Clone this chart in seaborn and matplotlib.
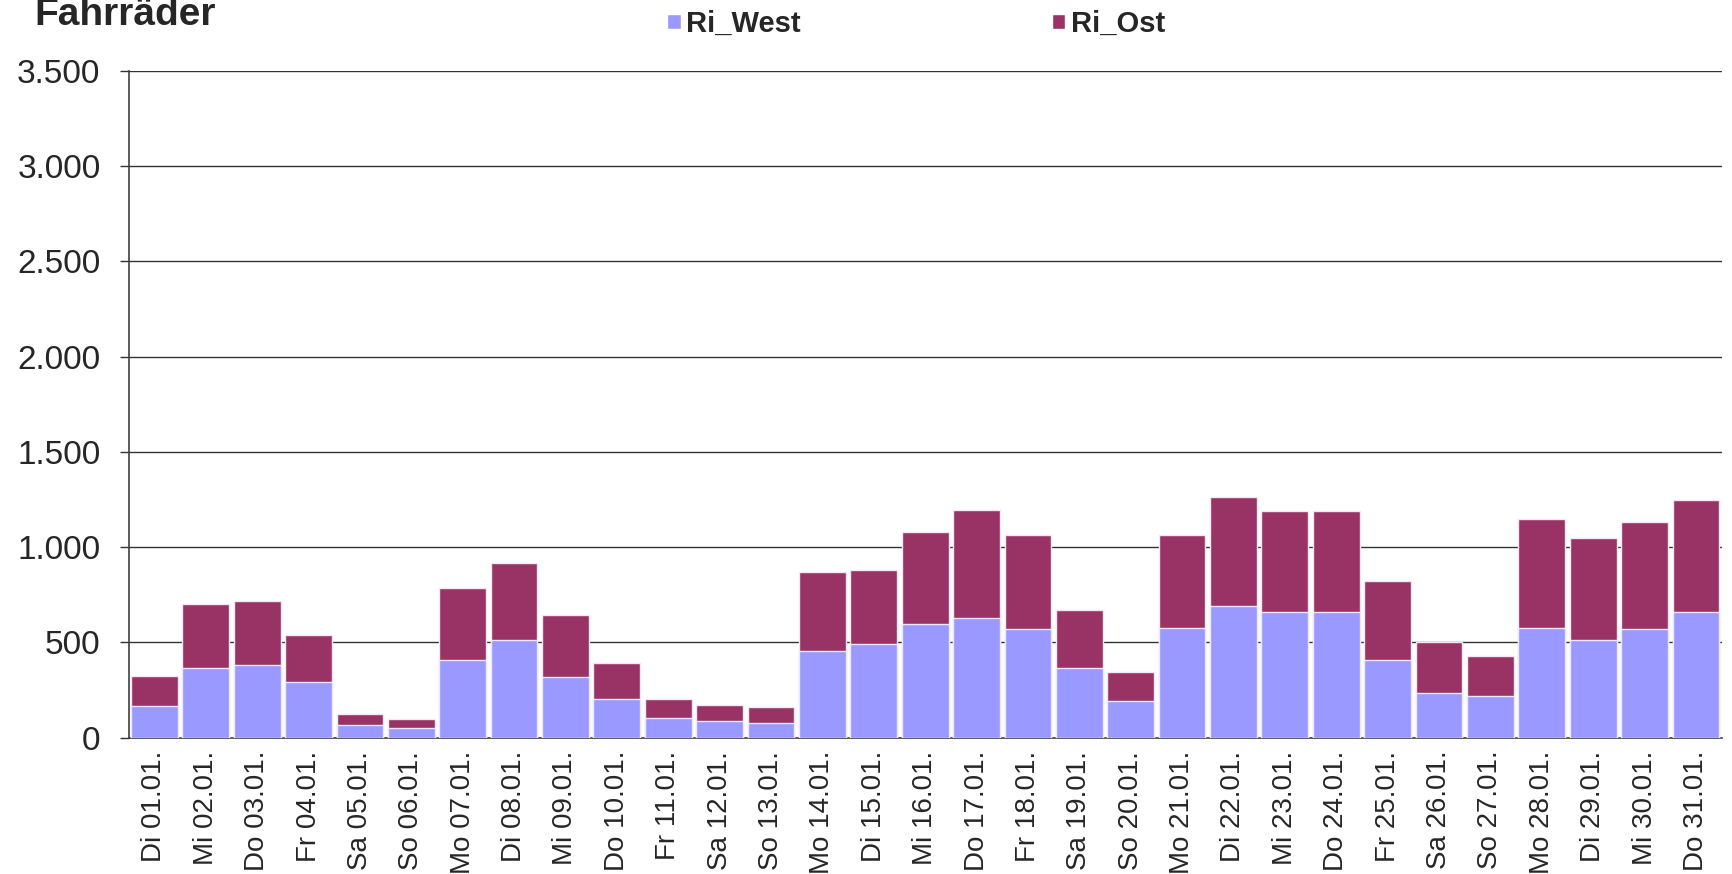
import pandas as pd
import seaborn as sns
import matplotlib.pyplot as plt
from matplotlib.patches import Patch
from matplotlib.ticker import FuncFormatter, FixedLocator

days = ['Di 01.01.', 'Mi 02.01.', 'Do 03.01.', 'Fr 04.01.', 'Sa 05.01.', 'So 06.01.',
        'Mo 07.01.', 'Di 08.01.', 'Mi 09.01.', 'Do 10.01.', 'Fr 11.01.', 'Sa 12.01.',
        'So 13.01.', 'Mo 14.01.', 'Di 15.01.', 'Mi 16.01.', 'Do 17.01.', 'Fr 18.01.',
        'Sa 19.01.', 'So 20.01.', 'Mo 21.01.', 'Di 22.01.', 'Mi 23.01.', 'Do 24.01.',
        'Fr 25.01.', 'Sa 26.01.', 'So 27.01.', 'Mo 28.01.', 'Di 29.01.', 'Mi 30.01.',
        'Do 31.01.']
ri_west = [165, 366, 380, 290, 67, 49, 408, 513, 320, 203, 105, 89, 75, 456, 490, 596,
           628, 570, 364, 191, 577, 691, 658, 659, 406, 236, 220, 574, 513, 569, 658]
ri_ost = [159, 337, 335, 250, 59, 49, 376, 402, 322, 187, 98, 81, 84, 411, 388, 481,
          565, 493, 306, 154, 486, 570, 530, 530, 416, 268, 207, 573, 535, 561, 587]

df = pd.DataFrame({'Tag': days, 'Ri_West': ri_west, 'Ri_Ost': ri_ost})
df['Gesamt'] = df['Ri_West'] + df['Ri_Ost']

west_color = '#9999FF'
ost_color = '#993366'
line_color = '#333333'

sns.set_style('white')
plt.rcParams['font.family'] = ['Liberation Sans', 'DejaVu Sans']

fig = plt.figure(figsize=(17.32, 8.74), dpi=100)
ax = fig.add_axes([0.0743, 0.156, 0.9197, 0.763])

# stacked bars: total first (Ost colour), then West over it
sns.barplot(data=df, x='Tag', y='Gesamt', color=ost_color, saturation=1, width=0.91,
            edgecolor='#f4e8f0', linewidth=1, ax=ax, zorder=3)
sns.barplot(data=df, x='Tag', y='Ri_West', color=west_color, saturation=1, width=0.91,
            edgecolor='#ece8ff', linewidth=1, ax=ax, zorder=4)

ax.set_xlim(-0.5, len(days) - 0.5)
ax.set_ylim(0, 3500)
ax.set_yticks(range(0, 3501, 500))
ax.yaxis.set_major_formatter(FuncFormatter(lambda v, p: f'{int(v):,}'.replace(',', '.')))
ax.grid(axis='y', color=line_color, linewidth=1, zorder=0)
ax.set_axisbelow(True)

ax.set_xticks(range(len(days)))
ax.set_xticklabels(days, rotation=90)
ax.tick_params(axis='x', which='major', length=0, pad=9.5, labelsize=20)
ax.xaxis.set_minor_locator(FixedLocator([-0.5 + 4 * i for i in range(8)]))
ax.tick_params(axis='x', which='minor', length=6, width=1, color=line_color, direction='out')
ax.tick_params(axis='y', length=6.3, width=1, color=line_color, pad=14, labelsize=24, left=True)

for side in ['top', 'right']:
    ax.spines[side].set_visible(False)
for side in ['left', 'bottom']:
    ax.spines[side].set_color('#404040')
    ax.spines[side].set_linewidth(1.2)

ax.set_xlabel('')
ax.set_ylabel('')

fig.text(0.02, 1 - 25 / 874, 'Fahrräder', fontsize=28, fontweight='bold', va='baseline')

handles = [Patch(facecolor=west_color, label='Ri_West'), Patch(facecolor=ost_color, label='Ri_Ost')]
fig.legend(handles=handles, loc='center', bbox_to_anchor=(0.529, 1 - 24 / 874), ncol=2,
           frameon=False, handlelength=0.45, handleheight=0.45, handletextpad=0.2,
           columnspacing=8.6, prop={'size': 21, 'weight': 'bold'})

fig.savefig('out.png', dpi=100)
